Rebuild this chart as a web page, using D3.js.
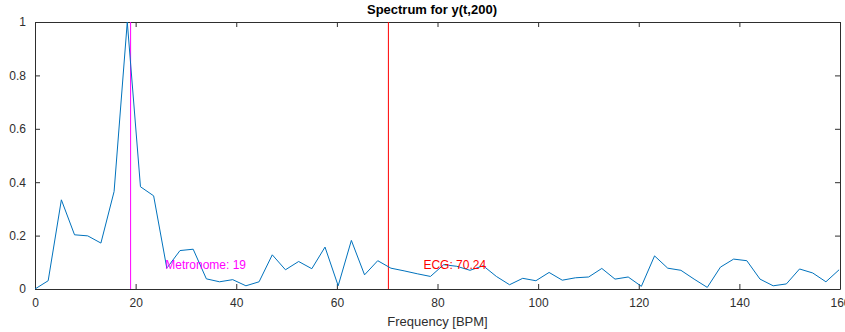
<!DOCTYPE html>
<html lang="en">
<head>
<meta charset="utf-8">
<title>Spectrum for y(t,200)</title>
<script src="https://d3js.org/d3.v7.min.js"></script>
<style>
  body { margin: 0; background: #fff; font-family: "Liberation Sans", Arial, Helvetica, sans-serif; }
</style>
</head>
<body>
<div class="plot"></div>
<script>
// frequency bins (BPM) and normalised spectrum magnitude
const freq = [0, 2.62, 5.24, 7.86, 10.48, 13.10, 15.72, 18.34, 20.96, 23.58,
  26.20, 28.82, 31.44, 34.06, 36.68, 39.30, 41.92, 44.54, 47.16, 49.78,
  52.40, 55.02, 57.64, 60.26, 62.88, 65.50, 68.12, 70.74, 73.36, 75.98,
  78.60, 81.22, 83.84, 86.46, 89.08, 91.70, 94.32, 96.94, 99.56, 102.18,
  104.80, 107.42, 110.04, 112.66, 115.28, 117.90, 120.52, 123.14, 125.76, 128.38,
  131.00, 133.62, 136.24, 138.86, 141.48, 144.10, 146.72, 149.34, 151.96, 154.58,
  157.20, 159.82];
const mag = [0, 0.031, 0.334, 0.203, 0.199, 0.172, 0.365, 1.0, 0.383, 0.349,
  0.078, 0.144, 0.149, 0.038, 0.027, 0.035, 0.012, 0.027, 0.128, 0.072,
  0.103, 0.076, 0.157, 0.012, 0.182, 0.053, 0.106, 0.078, 0.068, 0.057,
  0.047, 0.091, 0.085, 0.070, 0.087, 0.047, 0.016, 0.040, 0.031, 0.062,
  0.033, 0.042, 0.045, 0.077, 0.037, 0.045, 0.010, 0.124, 0.078, 0.070,
  0.037, 0.006, 0.082, 0.112, 0.106, 0.037, 0.012, 0.019, 0.075, 0.060,
  0.027, 0.072];

const xTicks = [0, 20, 40, 60, 80, 100, 120, 140, 160];
const yTicks = [0, 0.2, 0.4, 0.6, 0.8, 1];

// reference lines with their labels
const markers = [
  {name: "Metronome", value: 19, label: "Metronome: 19", labelX: 25.9, labelY: 0.09, color: "#ff00ff"},
  {name: "ECG", value: 70.24, label: "ECG: 70.24", labelX: 77.2, labelY: 0.09, color: "#ff0000"}
];

const width = 845, height = 332;
const margin = {top: 22, right: 5, bottom: 43, left: 35};

const svg = d3.select(".plot").append("svg")
  .attr("width", width)
  .attr("height", height);

const x = d3.scaleLinear().domain([0, 160]).range([margin.left, width - margin.right]);
const y = d3.scaleLinear().domain([0, 1]).range([height - margin.bottom, margin.top]);

const axisColor = "#2e2e2e";

svg.append("clipPath").attr("id", "clip")
  .append("rect")
  .attr("x", x(0)).attr("y", y(1))
  .attr("width", x(160) - x(0)).attr("height", y(0) - y(1));

// axes, ticks pointing inward
const gBottom = svg.append("g")
  .attr("transform", `translate(0,${y(0)})`)
  .call(d3.axisBottom(x).tickValues(xTicks).tickSizeInner(-5).tickSizeOuter(0).tickPadding(9).tickFormat(d3.format("d")));
const gTop = svg.append("g")
  .attr("transform", `translate(0,${y(1)})`)
  .call(d3.axisTop(x).tickValues(xTicks).tickSizeInner(-5).tickSizeOuter(0).tickFormat(""));
const gLeft = svg.append("g")
  .attr("transform", `translate(${x(0)},0)`)
  .call(d3.axisLeft(y).tickValues(yTicks).tickSizeInner(-5).tickSizeOuter(0).tickPadding(9).tickFormat(d => d === 0 || d === 1 ? d : d3.format(".1f")(d)));
const gRight = svg.append("g")
  .attr("transform", `translate(${x(160)},0)`)
  .call(d3.axisRight(y).tickValues(yTicks).tickSizeInner(-5).tickSizeOuter(0).tickFormat(""));

[gBottom, gTop, gLeft, gRight].forEach(g => {
  g.select(".domain").attr("stroke", axisColor).attr("stroke-width", 1);
  g.selectAll(".tick line").attr("stroke", axisColor);
  g.selectAll(".tick text")
    .attr("fill", axisColor)
    .attr("font-size", 12)
    .attr("font-family", "Liberation Sans, Arial, sans-serif");
});

// vertical reference lines
svg.selectAll(".marker")
  .data(markers)
  .enter()
  .append("line")
  .attr("class", "marker")
  .attr("x1", d => x(d.value))
  .attr("x2", d => x(d.value))
  .attr("y1", y(0))
  .attr("y2", y(1))
  .attr("stroke", d => d.color)
  .attr("stroke-width", 1);

// spectrum line
const line = d3.line()
  .x((d, i) => x(freq[i]))
  .y(d => y(d));

svg.append("path")
  .datum(mag)
  .attr("clip-path", "url(#clip)")
  .attr("fill", "none")
  .attr("stroke", "#0072BD")
  .attr("stroke-width", 1)
  .attr("stroke-linejoin", "round")
  .attr("d", line);

// marker labels
svg.selectAll(".marker-label")
  .data(markers)
  .enter()
  .append("text")
  .attr("class", "marker-label")
  .attr("x", d => x(d.labelX))
  .attr("y", d => y(d.labelY))
  .attr("dy", "0.35em")
  .attr("fill", d => d.color)
  .attr("font-size", 12)
  .text(d => d.label);

// title and axis label
svg.append("text")
  .attr("x", 432)
  .attr("y", 14)
  .attr("text-anchor", "middle")
  .attr("font-weight", "bold")
  .attr("font-size", 13)
  .attr("fill", "#000")
  .text("Spectrum for y(t,200)");

svg.append("text")
  .attr("x", (x(0) + x(160)) / 2)
  .attr("y", 326)
  .attr("text-anchor", "middle")
  .attr("font-size", 13)
  .attr("fill", axisColor)
  .text("Frequency [BPM]");
</script>
</body>
</html>
